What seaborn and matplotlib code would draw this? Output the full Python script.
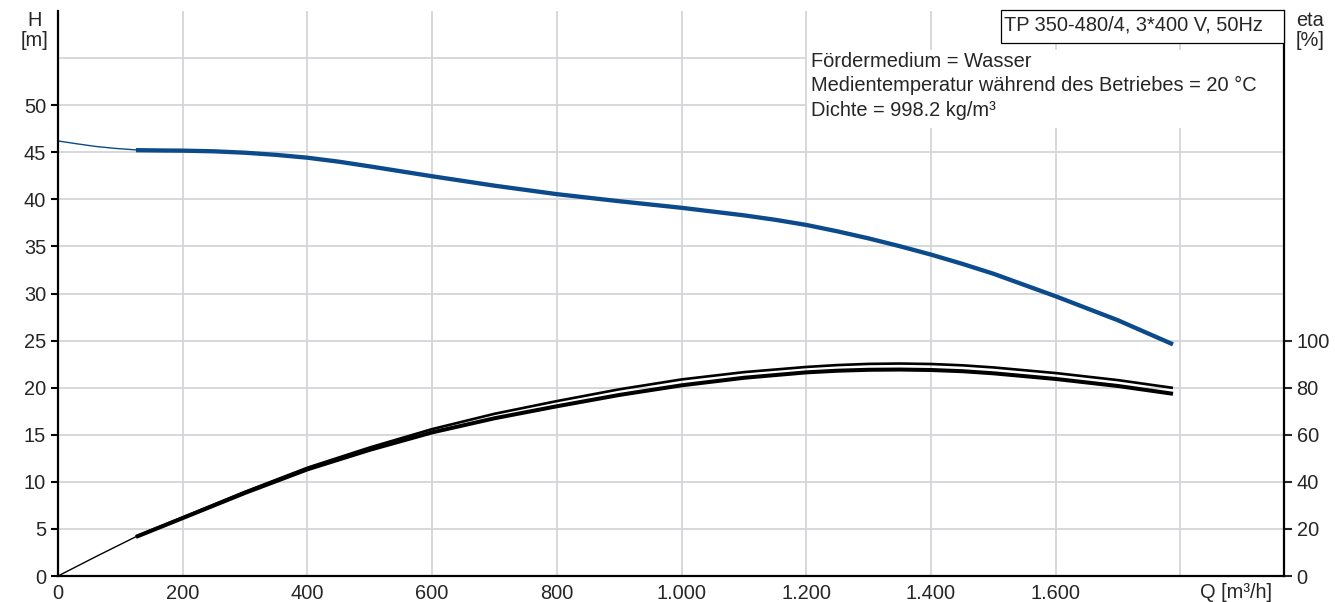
import numpy as np
import pandas as pd
import matplotlib
matplotlib.use("Agg")
import matplotlib.pyplot as plt
import seaborn as sns
from matplotlib.patches import Rectangle

# ---------------- data ----------------
q_h_thin = [0, 30, 60, 90, 125]
h_thin = [46.2, 45.9, 45.62, 45.42, 45.25]

q_h = [125, 164, 200, 250, 300, 350, 400, 450, 500, 600, 700, 800, 900, 1000,
       1100, 1150, 1200, 1250, 1300, 1350, 1400, 1450, 1500, 1600, 1700, 1788]
h_vals = [45.22, 45.19, 45.17, 45.1, 44.95, 44.72, 44.42, 44.0, 43.5, 42.45,
          41.45, 40.55, 39.8, 39.1, 38.3, 37.83, 37.28, 36.6, 35.85, 35.02,
          34.13, 33.15, 32.1, 29.7, 27.15, 24.6]

q_eta_thin = [0, 62, 125]
eta_thin = [0, 8.4, 16.7]

q_eta = [125, 200, 300, 400, 500, 600, 700, 800, 900, 1000, 1100, 1200, 1250,
         1300, 1350, 1400, 1450, 1500, 1600, 1700, 1788]
eta_upper = [16.8, 24.9, 35.8, 46.0, 54.6, 62.4, 68.9, 74.3, 79.3, 83.5, 86.6,
             88.8, 89.6, 90.1, 90.25, 90.05, 89.5, 88.6, 86.2, 83.2, 79.9]
eta_lower = [16.6, 24.6, 35.3, 45.3, 53.6, 61.0, 67.0, 72.1, 76.9, 81.0, 84.2,
             86.5, 87.2, 87.6, 87.7, 87.5, 87.0, 86.1, 83.7, 80.7, 77.4]

x_ticks = [0, 200, 400, 600, 800, 1000, 1200, 1400, 1600, 1800]
x_tick_labels = ["0", "200", "400", "600", "800", "1.000", "1.200", "1.400", "1.600", ""]
y_ticks = [0, 5, 10, 15, 20, 25, 30, 35, 40, 45, 50]
eta_ticks = [0, 20, 40, 60, 80, 100]

title_text = "TP 350-480/4, 3*400 V, 50Hz"
info_lines = ["Fördermedium = Wasser",
              "Medientemperatur während des Betriebes = 20 °C",
              "Dichte = 998.2 kg/m³"]

# ---------------- style ----------------
sns.set_style("white")
plt.rcParams['font.family'] = ['Liberation Sans', 'DejaVu Sans']
FS = 14.4
BLUE = "#0b4b8c"
GRID = "#d3d6da"

W, H = 1335, 602
fig = plt.figure(figsize=(W / 100, H / 100), dpi=100)
fx = lambda px: px / W
fy = lambda py: 1 - py / H

ax = fig.add_axes([fx(58), fy(576), (1284 - 58) / W, (576 - 11) / H])
ax2 = ax.twinx()

# curves
df_ht = pd.DataFrame({"Q": q_h_thin, "H": h_thin})
df_h = pd.DataFrame({"Q": q_h, "H": h_vals})
sns.lineplot(data=df_ht, x="Q", y="H", ax=ax, color=BLUE, linewidth=1.0)
sns.lineplot(data=df_h, x="Q", y="H", ax=ax, color=BLUE, linewidth=3.1,
             solid_capstyle="butt")

df_et = pd.DataFrame({"Q": q_eta_thin, "eta": eta_thin})
df_eu = pd.DataFrame({"Q": q_eta, "eta": eta_upper})
df_el = pd.DataFrame({"Q": q_eta, "eta": eta_lower})
sns.lineplot(data=df_et, x="Q", y="eta", ax=ax2, color="black", linewidth=1.0)
sns.lineplot(data=df_eu, x="Q", y="eta", ax=ax2, color="black", linewidth=1.9,
             solid_capstyle="butt")
sns.lineplot(data=df_el, x="Q", y="eta", ax=ax2, color="black", linewidth=2.9,
             solid_capstyle="butt")

# axes limits / ticks
ax.set_xlim(0, 1966)
ax.set_ylim(0, 60)
ax2.set_ylim(0, 240)

ax.set_xticks(x_ticks)
ax.set_xticklabels(x_tick_labels)
ax.set_yticks(y_ticks)
ax.set_yticklabels([str(v) for v in y_ticks])
ax.set_yticks([55], minor=True)
ax.tick_params(axis='y', which='minor', length=0)
ax.tick_params(axis='both', which='major', labelsize=FS, direction='out',
               length=5, width=1.5, color='black')
ax.tick_params(axis='x', pad=1)
ax.tick_params(axis='y', pad=3.5)
ax.grid(True, which='both', color=GRID, linewidth=1.3)
ax.set_axisbelow(True)
ax.set_xlabel("")
ax.set_ylabel("")

ax2.set_yticks(eta_ticks)
ax2.set_yticklabels([str(v) for v in eta_ticks])
ax2.tick_params(axis='y', labelsize=FS, direction='out', length=6, width=1.5,
                pad=3)
ax2.set_ylabel("")
ax2.grid(False)

for a in (ax, ax2):
    for s in a.spines.values():
        s.set_visible(False)
ax.spines['left'].set_visible(True)
ax.spines['bottom'].set_visible(True)
ax2.spines['right'].set_visible(True)
for s in (ax.spines['left'], ax.spines['bottom'], ax2.spines['right']):
    s.set_linewidth(1.6)
    s.set_color('black')

# white background behind info text (hides grid)
ax.add_patch(Rectangle((fx(807), fy(128)), fx(1283) - fx(807), fy(50) - fy(128),
                       transform=fig.transFigure, facecolor='white',
                       edgecolor='none', zorder=1, clip_on=False))
# title box
fig.add_artist(Rectangle((fx(1001), fy(43)), fx(1284) - fx(1001), fy(10) - fy(43),
                         transform=fig.transFigure, facecolor='white',
                         edgecolor='black', linewidth=0.9, zorder=5))
fig.text(fx(1004), fy(30.7), title_text, fontsize=FS, va='baseline', ha='left',
         zorder=6)
for i, line in enumerate(info_lines):
    fig.text(fx(811), fy(66.7 + 24.7 * i), line, fontsize=FS, va='baseline',
             ha='left')

# axis labels
fig.text(fx(35), fy(20), "H", fontsize=FS, ha='center', va='center')
fig.text(fx(35), fy(40), "[m]", fontsize=FS, ha='center', va='center')
fig.text(fx(1296), fy(20), "eta", fontsize=FS, ha='left', va='center')
fig.text(fx(1296), fy(40), "[%]", fontsize=FS, ha='left', va='center')
fig.text(fx(1200), fy(592), "Q [m³/h]", fontsize=FS, ha='left', va='center')

fig.savefig("out.png", dpi=100)
